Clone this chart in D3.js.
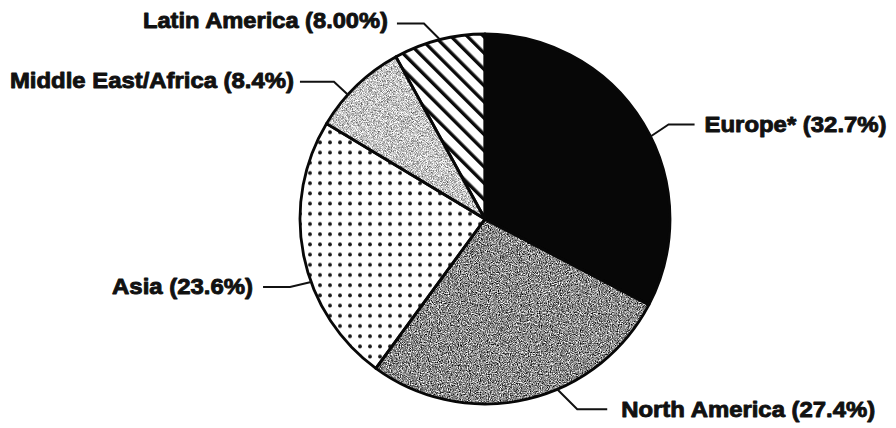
<!DOCTYPE html>
<html>
<head>
<meta charset="utf-8">
<script src="https://cdn.jsdelivr.net/npm/d3@7"></script>
<style>
  html, body { margin: 0; padding: 0; background: #ffffff; }
  svg { display: block; }
  .lbl { font-family: "Liberation Sans", Arial, sans-serif; font-weight: bold; font-size: 22px; fill: #111; stroke: #111; stroke-width: 0.9px; stroke-linejoin: round; }
</style>
</head>
<body>
<svg id="chart" width="896" height="428"></svg>
<script>
// Regional shares (percent), clockwise from 12 o'clock
const regions = ["Europe*", "North America", "Asia", "Middle East/Africa", "Latin America"];
const shares = [32.7, 27.4, 23.6, 8.4, 8.00];
const shareLabels = ["32.7%", "27.4%", "23.6%", "8.4%", "8.00%"];

// Slice fills: solid, coarse grain, dots, fine grain, hatching
const fillStyles = ["solid", "grainDark", "dots", "grainLight", "hatch"];

// Leader line layout: where on the slice rim it starts (fraction of the slice's sweep),
// the elbow offset, the horizontal run, and the label width
const leaderFrac = [0.54, 0.40, 0.40, 0.37, 0.51];
const leaderBend = [[18, -12], [20, 20], [-21, 5], [-14, -13], [-16, -16]];
const leaderRun = [26, 30, -27, -34, -27];
const labelGap = [10, 14, 10, 6, 9];
const labelShift = [8, 8, 7, 6, 4];
const labelWidth = [182, 254, 141, 284, 245];

const W = 896, H = 428;
const cx = 485, cy = 219, R = 185;

const svg = d3.select("#chart");
svg.append("rect").attr("width", W).attr("height", H).attr("fill", "#ffffff");

const defs = svg.append("defs");

// dotted pattern
const dots = defs.append("pattern")
  .attr("id", "dots").attr("patternUnits", "userSpaceOnUse")
  .attr("width", 10).attr("height", 10.2);
dots.append("rect").attr("width", 10).attr("height", 10.2).attr("fill", "#fff");
dots.append("circle").attr("cx", 5).attr("cy", 5).attr("r", 1.9).attr("fill", "#1a1a1a");

// diagonal hatching
const hatch = defs.append("pattern")
  .attr("id", "hatch").attr("patternUnits", "userSpaceOnUse")
  .attr("width", 11.5).attr("height", 11.5)
  .attr("patternTransform", "rotate(-45)");
hatch.append("rect").attr("width", 11.5).attr("height", 11.5).attr("fill", "#fff");
hatch.append("rect").attr("x", 0).attr("y", 0).attr("width", 3.4).attr("height", 11.5).attr("fill", "#0a0a0a");

// grain textures
function grain(id, freq, gain, offset, seed) {
  const f = defs.append("filter").attr("id", id)
    .attr("filterUnits", "userSpaceOnUse")
    .attr("x", -R - 10).attr("y", -R - 10).attr("width", 2 * R + 20).attr("height", 2 * R + 20)
    .attr("color-interpolation-filters", "sRGB");
  f.append("feTurbulence").attr("type", "fractalNoise").attr("baseFrequency", freq)
    .attr("numOctaves", 3).attr("seed", seed).attr("result", "n");
  const g = gain, o = offset;
  f.append("feColorMatrix").attr("in", "n").attr("type", "matrix")
    .attr("values", `${g} 0 0 0 ${o}  ${g} 0 0 0 ${o}  ${g} 0 0 0 ${o}  0 0 0 0 1`)
    .attr("result", "g");
  f.append("feComposite").attr("in", "g").attr("in2", "SourceGraphic").attr("operator", "in");
}
grain("grainDark", 0.9, 1.8, -0.36, 4);
grain("grainLight", 1.2, 1.3, 0.12, 9);

const g = svg.append("g").attr("transform", `translate(${cx},${cy})`);

const pie = d3.pie().sort(null).value(d => d).startAngle(0).endAngle(2 * Math.PI);
const arcs = pie(shares);
const arc = d3.arc().innerRadius(0).outerRadius(R);

g.selectAll("path.slice")
  .data(arcs)
  .join("path")
  .attr("class", "slice")
  .attr("d", arc)
  .attr("fill", (d, i) => {
    const s = fillStyles[i];
    if (s === "solid") return "#070707";
    if (s === "dots") return "url(#dots)";
    if (s === "hatch") return "url(#hatch)";
    return "#888";
  })
  .attr("filter", (d, i) => fillStyles[i].startsWith("grain") ? `url(#${fillStyles[i]})` : null);

// slice outlines
g.selectAll("path.edge")
  .data(arcs)
  .join("path")
  .attr("class", "edge")
  .attr("d", arc)
  .attr("fill", "none")
  .attr("stroke", "#080808")
  .attr("stroke-width", 2.8)
  .attr("stroke-linejoin", "round");

// leader lines and labels
arcs.forEach((d, i) => {
  const a = d.startAngle + leaderFrac[i] * (d.endAngle - d.startAngle);
  const x0 = R * Math.sin(a), y0 = -R * Math.cos(a);
  const x1 = x0 + leaderBend[i][0], y1 = y0 + leaderBend[i][1];
  const x2 = x1 + leaderRun[i];
  g.append("path")
    .attr("d", d3.line()([[x0, y0], [x1, y1], [x2, y1]]))
    .attr("fill", "none")
    .attr("stroke", "#111")
    .attr("stroke-width", 2);
  const right = leaderRun[i] > 0;
  const tx = right ? x2 + labelGap[i] : x2 - labelGap[i] - labelWidth[i];
  g.append("text")
    .attr("class", "lbl")
    .attr("x", tx)
    .attr("y", y1 + labelShift[i])
    .attr("textLength", labelWidth[i])
    .attr("lengthAdjust", "spacingAndGlyphs")
    .text(`${regions[i]} (${shareLabels[i]})`);
});
</script>
</body>
</html>
